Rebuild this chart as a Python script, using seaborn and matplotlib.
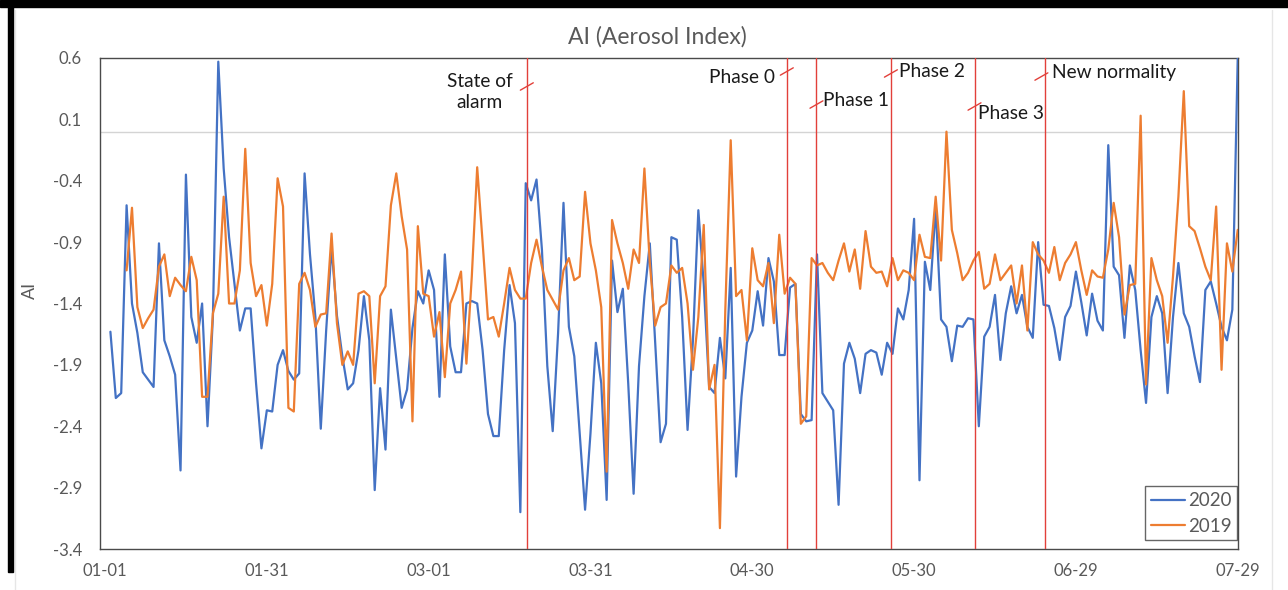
import numpy as np
import pandas as pd
import matplotlib
matplotlib.use("Agg")
import matplotlib.pyplot as plt
import seaborn as sns
from matplotlib.patches import Rectangle
from matplotlib.lines import Line2D

# ---------------- data ----------------
days = list(range(1, 211))  # days since 01-01 (2020)

ai_2020 = [
    -1.63, -2.17, -2.13, -0.60, -1.40, -1.64, -1.96, -2.02, -2.08, -0.91,
    -1.70, -1.83, -1.98, -2.76, -0.35, -1.51, -1.72, -1.40, -2.40, -1.51,
    0.57, -0.30, -0.86, -1.24, -1.62, -1.44, -1.44, -2.05, -2.58, -2.27,
    -2.28, -1.90, -1.78, -1.95, -2.02, -1.97, -0.34, -1.00, -1.51, -2.42,
    -1.62, -0.94, -1.50, -1.83, -2.10, -2.05, -1.78, -1.34, -1.70, -2.92,
    -2.09, -2.59, -1.45, -1.85, -2.25, -2.10, -1.60, -1.30, -1.40, -1.13,
    -1.29, -2.16, -1.00, -1.75, -1.96, -1.96, -1.40, -1.38, -1.40, -1.78,
    -2.30, -2.48, -2.48, -1.78, -1.25, -1.56, -3.10, -0.42, -0.56, -0.39,
    -0.96, -1.91, -2.44, -1.64, -0.58, -1.59, -1.83, -2.46, -3.08, -2.46,
    -1.72, -2.05, -3.00, -1.05, -1.47, -1.28, -2.05, -2.95, -1.91, -1.34,
    -0.91, -1.72, -2.53, -2.38, -0.86, -0.88, -1.51, -2.43, -1.70, -0.64,
    -1.24, -2.08, -2.13, -1.68, -2.01, -1.11, -2.81, -2.16, -1.72, -1.62,
    -1.30, -1.58, -1.03, -1.22, -1.82, -1.82, -1.27, -1.24, -2.30, -2.36,
    -2.35, -1.00, -2.13, -2.20, -2.27, -3.04, -1.89, -1.72, -1.85, -2.13,
    -1.81, -1.78, -1.80, -1.98, -1.72, -1.81, -1.44, -1.53, -1.29, -0.71,
    -2.84, -1.06, -1.29, -0.62, -1.53, -1.59, -1.87, -1.58, -1.59, -1.52,
    -1.53, -2.40, -1.67, -1.59, -1.33, -1.86, -1.48, -1.26, -1.48, -1.33,
    -1.59, -1.68, -0.90, -1.41, -1.42, -1.60, -1.86, -1.51, -1.42, -1.14,
    -1.39, -1.66, -1.32, -1.54, -1.62, -0.11, -1.10, -1.17, -1.68, -1.09,
    -1.29, -1.78, -2.21, -1.51, -1.34, -1.48, -2.13, -1.51, -1.07, -1.48,
    -1.59, -1.83, -2.04, -1.29, -1.22, -1.40, -1.59, -1.70, -1.45, 0.60,
]

ai_2019 = [
    np.nan, np.nan, np.nan, -1.13, -0.62, -1.43, -1.60, -1.52, -1.45, -1.10,
    -1.00, -1.34, -1.19, -1.25, -1.30, -1.02, -1.21, -2.16, -2.16, -1.48,
    -1.32, -0.53, -1.40, -1.40, -1.13, -0.14, -1.07, -1.34, -1.25, -1.58,
    -1.24, -0.38, -0.61, -2.25, -2.28, -1.24, -1.15, -1.29, -1.59, -1.49,
    -1.48, -0.83, -1.56, -1.90, -1.79, -1.90, -1.32, -1.30, -1.34, -2.05,
    -1.34, -1.26, -0.60, -0.34, -0.69, -0.96, -2.36, -0.77, -1.32, -1.34,
    -1.67, -1.47, -2.00, -1.40, -1.29, -1.14, -1.89, -1.18, -0.29, -0.90,
    -1.53, -1.51, -1.67, -1.40, -1.11, -1.29, -1.36, -1.36, -1.07, -0.88,
    -1.10, -1.29, -1.37, -1.45, -1.13, -1.03, -1.21, -1.18, -0.49, -0.91,
    -1.13, -1.43, -2.77, -0.72, -0.91, -1.07, -1.28, -0.96, -1.07, -0.30,
    -1.07, -1.58, -1.43, -1.40, -1.09, -1.15, -1.11, -1.40, -1.94, -1.51,
    -0.76, -2.10, -1.90, -3.23, -1.45, -0.07, -1.34, -1.29, -1.70, -0.95,
    -1.21, -1.26, -1.07, -1.56, -0.84, -1.32, -1.19, -1.24, -2.38, -2.32,
    -1.03, -1.09, -1.07, -1.15, -1.21, -1.05, -0.91, -1.14, -0.96, -1.28,
    -0.81, -1.10, -1.15, -1.14, -1.26, -1.03, -1.21, -1.13, -1.15, -1.21,
    -0.84, -1.02, -1.03, -0.53, -1.05, 0.00, -0.80, -0.99, -1.21, -1.15,
    -1.05, -0.98, -1.28, -1.24, -1.00, -1.21, -1.15, -1.09, -1.40, -1.09,
    -1.62, -0.90, -1.00, -1.05, -1.15, -0.94, -1.21, -1.07, -1.00, -0.90,
    -1.13, -1.33, -1.13, -1.18, -1.19, -0.96, -0.58, -0.86, -1.49, -1.25,
    -1.24, 0.13, -2.06, -1.03, -1.21, -1.34, -1.72, -1.18, -0.53, 0.33,
    -0.77, -0.81, -0.95, -1.10, -1.21, -0.61, -1.94, -0.91, -1.14, -0.80,
]

tick_days = [0, 30, 60, 90, 120, 150, 180, 210]
tick_labels = ["01-01", "01-31", "03-01", "03-31", "04-30", "05-30", "06-29", "07-29"]
y_ticks = [0.6, 0.1, -0.4, -0.9, -1.4, -1.9, -2.4, -2.9, -3.4]

event_names = ["State of\nalarm", "Phase 0", "Phase 1", "Phase 2", "Phase 3", "New normality"]
event_days = [78.2, 126.4, 131.9, 145.7, 161.2, 174.3]

# ---------------- style ----------------
sns.set_theme(style="white")
plt.rcParams["font.family"] = ["Lato", "DejaVu Sans"]
GREY = "#595959"
RED = "#E2403A"

df = pd.DataFrame({
    "day": days * 2,
    "AI": ai_2020 + ai_2019,
    "year": ["2020"] * len(days) + ["2019"] * len(days),
})

fig = plt.figure(figsize=(12.88, 5.90), dpi=100)
fig.patch.set_facecolor("white")
ax = fig.add_axes([100 / 1288, 1 - 549 / 590, 1138 / 1288, 491 / 590])

ax.axhline(0, color="#d4d4d4", lw=1.0, zorder=0)

sns.lineplot(data=df, x="day", y="AI", hue="year", hue_order=["2020", "2019"],
             palette=["#4472C4", "#ED7D31"], linewidth=1.6, estimator=None,
             ax=ax, zorder=3)
for ln in ax.get_lines():
    ln.set_solid_joinstyle("round")

# event lines, leader ticks and labels
label_pos = [(69.5, 0.323, "center"), (124.2, 0.445, "right"), (133.1, 0.25, "left"),
             (147.2, 0.494, "left"), (161.8, 0.144, "left"), (175.6, 0.478, "left")]
leader_y = [0.368, 0.49, 0.221, 0.474, 0.205, 0.449]
leader_dx = [0, 0, 0, 0, 0, -0.7]
for name, d, (lx, ly, ha), yy, ddx in zip(event_names, event_days, label_pos, leader_y, leader_dx):
    ax.axvline(d, color=RED, lw=1.0, zorder=4)
    cx = d + ddx
    ax.plot([cx - 1.2, cx + 1.2], [yy - 0.03, yy + 0.03], color=RED, lw=1.0, zorder=5)
    ax.text(lx, ly, name, ha=ha, va="center", fontsize=13.8, color="#1a1a1a",
            linespacing=1.25, zorder=6)

ax.set_xlim(-0.93, 210.05)
ax.set_ylim(-3.4, 0.6)
ax.set_xticks(tick_days)
ax.set_xticklabels(tick_labels)
ax.set_yticks(y_ticks)
ax.set_yticklabels([f"{v:.1f}" for v in y_ticks])
ax.tick_params(axis="both", length=0, colors=GREY, labelsize=12)
ax.tick_params(axis="y", pad=13)
ax.tick_params(axis="x", pad=10)
ax.set_xlabel("")
ax.set_ylabel("")
for s in ax.spines.values():
    s.set_color("#4a4a4a")
    s.set_linewidth(1.0)

leg = ax.legend(loc="lower right", bbox_to_anchor=(0.999, 0.018), borderaxespad=0,
                fontsize=13.5, frameon=True, fancybox=False, edgecolor="#404040",
                handlelength=1.8, handletextpad=0.15, borderpad=0.3, labelspacing=0.45)
leg.get_frame().set_linewidth(1.0)
for t in leg.get_texts():
    t.set_color(GREY)

fig.text(657 / 1288, 1 - 37 / 590, "AI (Aerosol Index)", ha="center", va="center",
         fontsize=16.5, color=GREY)
fig.text(30 / 1288, 1 - 290 / 590, "AI", ha="center", va="center", rotation=90,
         fontsize=13, color=GREY)

# screenshot framing
fig.add_artist(Rectangle((0, 1 - 7 / 590), 1, 7 / 590, transform=fig.transFigure,
                         color="black", zorder=10))
fig.add_artist(Rectangle((8 / 1288, 1 - 572 / 590), 5 / 1288, 572 / 590,
                         transform=fig.transFigure, color="black", zorder=10))
fig.add_artist(Line2D([15 / 1288, 15 / 1288], [0, 1 - 10 / 590], transform=fig.transFigure,
                      color="#e6e6e6", lw=1.0))
fig.add_artist(Line2D([1272 / 1288, 1272 / 1288], [0, 1 - 10 / 590], transform=fig.transFigure,
                      color="#e6e6e6", lw=1.0))

fig.savefig("out.png", dpi=100, facecolor="white")
